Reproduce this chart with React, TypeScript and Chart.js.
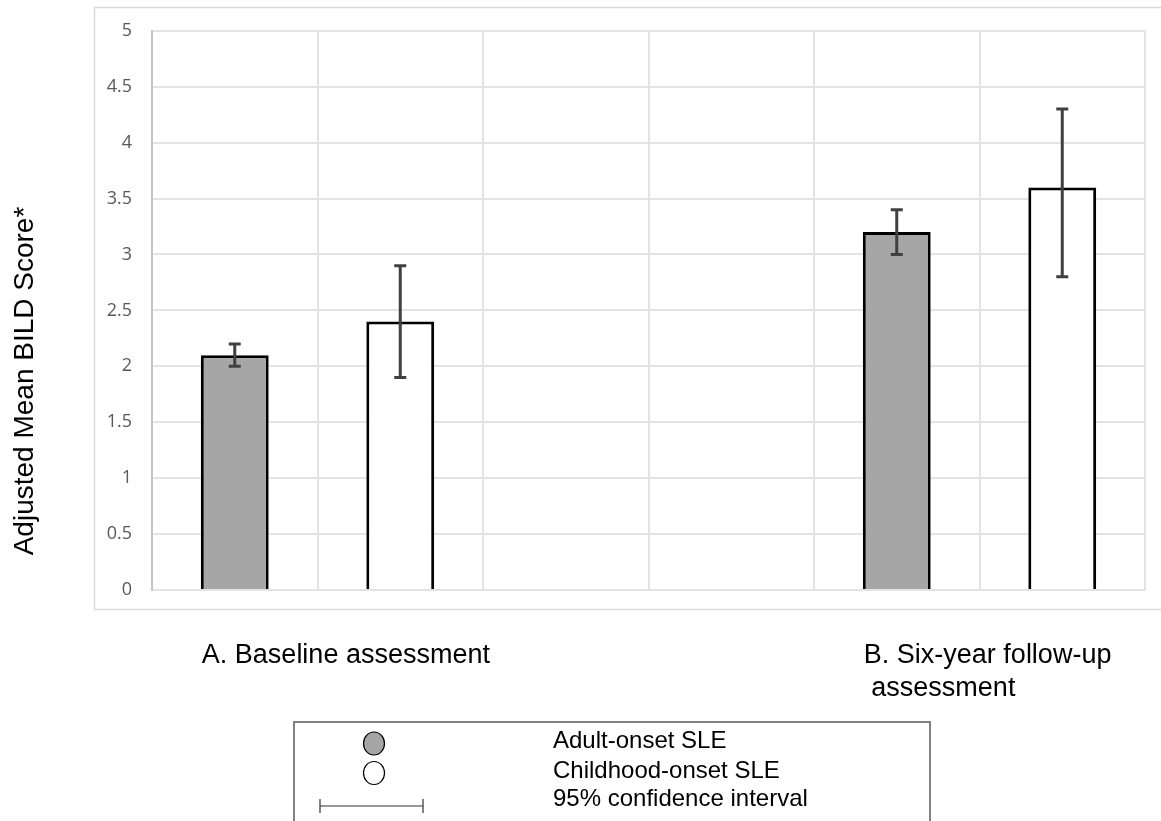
import { useEffect, useRef } from "react";
import { Chart, registerables } from "chart.js";

Chart.register(...registerables);

// ---- data ----
const slotKeys = ["A-adult", "A-child", "gap-1", "gap-2", "B-adult", "B-child"];
const groupLabels = ["A. Baseline assessment", "B. Six-year follow-up\n assessment"];
const adultSlots = [0, 4];
const childSlots = [1, 5];
const adultMean = [2.1, 3.2];
const adultLow = [2.0, 3.0];
const adultHigh = [2.2, 3.4];
const childMean = [2.4, 3.6];
const childLow = [1.9, 2.8];
const childHigh = [2.9, 4.3];
const yMin = 0;
const yMax = 5;
const yStep = 0.5;
const yTitle = "Adjusted Mean BILD Score*";
const legendLabels = ["Adult-onset SLE", "Childhood-onset SLE", "95% confidence interval"];

const ADULT_COLOR = "#a6a6a6";
const CHILD_COLOR = "#ffffff";
const SANS = "'Liberation Sans', Arial, sans-serif";

function toSlots(slots: number[], values: number[]): (number | null)[] {
  const out: (number | null)[] = slotKeys.map(() => null);
  slots.forEach((s, i) => (out[s] = values[i]));
  return out;
}

const lowsBySet = [toSlots(adultSlots, adultLow), toSlots(childSlots, childLow)];
const highsBySet = [toSlots(adultSlots, adultHigh), toSlots(childSlots, childHigh)];

const decorPlugin = {
  id: "decor",
  beforeDraw(chart: any) {
    const ctx = chart.ctx;
    ctx.save();
    ctx.strokeStyle = "#d9d9d9";
    ctx.lineWidth = 1.5;
    ctx.strokeRect(94.5, 7.5, 1080, 602);
    ctx.restore();
  },
  afterDatasetsDraw(chart: any) {
    const ctx = chart.ctx;
    const y = chart.scales.y;
    ctx.save();
    ctx.strokeStyle = "#404040";
    ctx.lineWidth = 3;
    ctx.lineCap = "butt";
    [0, 1].forEach((di) => {
      const meta = chart.getDatasetMeta(di);
      meta.data.forEach((bar: any, j: number) => {
        const lo = lowsBySet[di][j];
        const hi = highsBySet[di][j];
        if (lo == null || hi == null) return;
        const { x } = bar.getProps(["x"], true);
        const yl = y.getPixelForValue(lo);
        const yh = y.getPixelForValue(hi);
        ctx.beginPath();
        ctx.moveTo(x, yl);
        ctx.lineTo(x, yh);
        ctx.moveTo(x - 6, yl);
        ctx.lineTo(x + 6, yl);
        ctx.moveTo(x - 6, yh);
        ctx.lineTo(x + 6, yh);
        ctx.stroke();
      });
    });
    ctx.restore();
  },
  afterDraw(chart: any) {
    const ctx = chart.ctx;
    const area = chart.chartArea;
    ctx.save();
    // y title
    ctx.fillStyle = "#000";
    ctx.font = `28px ${SANS}`;
    ctx.translate(33, 381);
    ctx.rotate(-Math.PI / 2);
    ctx.textAlign = "center";
    ctx.textBaseline = "alphabetic";
    ctx.fillText(yTitle, 0, 0);
    ctx.restore();

    // group labels under the bars
    ctx.save();
    ctx.fillStyle = "#000";
    ctx.font = `27px ${SANS}`;
    ctx.textAlign = "left";
    ctx.textBaseline = "alphabetic";
    const meta0 = chart.getDatasetMeta(0);
    groupLabels.forEach((label, g) => {
      const bar = meta0.data[adultSlots[g]];
      const { x, width } = bar.getProps(["x", "width"], true);
      const left = x - width / 2 + 1;
      label.split("\n").forEach((line, i) => {
        ctx.fillText(line, left, area.bottom + 73 + i * 33);
      });
    });
    ctx.restore();

    // legend box
    ctx.save();
    ctx.strokeStyle = "#595959";
    ctx.lineWidth = 1.5;
    ctx.beginPath();
    ctx.moveTo(294, 830);
    ctx.lineTo(294, 722);
    ctx.lineTo(930, 722);
    ctx.lineTo(930, 830);
    ctx.stroke();

    ctx.lineWidth = 1.2;
    ctx.strokeStyle = "#000";
    ctx.fillStyle = ADULT_COLOR;
    ctx.beginPath();
    ctx.ellipse(374, 743.5, 10.5, 11.5, 0, 0, Math.PI * 2);
    ctx.fill();
    ctx.stroke();
    ctx.fillStyle = CHILD_COLOR;
    ctx.beginPath();
    ctx.ellipse(374, 773, 10.5, 11.5, 0, 0, Math.PI * 2);
    ctx.fill();
    ctx.stroke();

    ctx.strokeStyle = "#333";
    ctx.lineWidth = 1.2;
    ctx.beginPath();
    ctx.moveTo(320, 806);
    ctx.lineTo(423, 806);
    ctx.moveTo(320, 799);
    ctx.lineTo(320, 813);
    ctx.moveTo(423, 799);
    ctx.lineTo(423, 813);
    ctx.stroke();

    ctx.fillStyle = "#000";
    ctx.font = `24px ${SANS}`;
    ctx.textAlign = "left";
    ctx.textBaseline = "middle";
    const ys = [741, 771, 799];
    legendLabels.forEach((t, i) => ctx.fillText(t, 553, ys[i]));
    ctx.restore();
  },
};

export default function App() {
  const ref = useRef<HTMLCanvasElement | null>(null);

  useEffect(() => {
    if (!ref.current) return;
    const chart = new Chart(ref.current, {
      type: "bar",
      data: {
        labels: slotKeys,
        datasets: [
          {
            label: legendLabels[0],
            data: toSlots(adultSlots, adultMean),
            backgroundColor: ADULT_COLOR,
            borderColor: "#000",
            borderWidth: 3,
            barPercentage: 0.41,
            categoryPercentage: 1,
          },
          {
            label: legendLabels[1],
            data: toSlots(childSlots, childMean),
            backgroundColor: CHILD_COLOR,
            borderColor: "#000",
            borderWidth: 3,
            barPercentage: 0.41,
            categoryPercentage: 1,
          },
        ],
      },
      options: {
        responsive: false,
        animation: false,
        layout: { padding: { left: 95, top: 28, right: 16, bottom: 231 } },
        plugins: {
          legend: { display: false },
          tooltip: { enabled: false },
          title: { display: false },
        },
        scales: {
          x: {
            stacked: true,
            offset: true,
            ticks: { display: false },
            grid: { color: "#e3e3e3", lineWidth: 2, offset: true, drawTicks: false },
            border: { color: "#e3e3e3", width: 2 },
            afterFit: (s: any) => {
              s.height = 0;
            },
          },
          y: {
            min: yMin,
            max: yMax,
            ticks: {
              stepSize: yStep,
              color: "#595959",
              padding: 20,
              font: { family: "'Open Sans', sans-serif", size: 18 },
              callback: (v: any) => String(v),
            },
            grid: { color: "#e3e3e3", lineWidth: 2, drawTicks: false },
            border: { color: "#c4c4c4", width: 2 },
            afterFit: (s: any) => {
              s.width = 57;
            },
          },
        },
      },
      plugins: [decorPlugin],
    });
    return () => chart.destroy();
  }, []);

  return (
    <div style={{ position: "fixed", left: 0, top: 0, width: 1161, height: 821, background: "#fff" }}>
      <canvas ref={ref} width={1161} height={821} style={{ width: 1161, height: 821, display: "block" }} />
    </div>
  );
}
